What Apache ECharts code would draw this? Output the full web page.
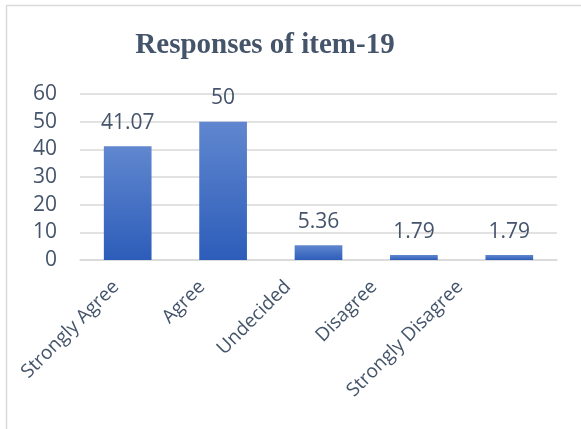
<!DOCTYPE html>
<html><head><meta charset="utf-8">
<script src="https://cdn.jsdelivr.net/npm/echarts@6/dist/echarts.min.js"></script>
<style>html,body{margin:0;padding:0;background:#fff}#c{width:581px;height:429px}</style>
</head><body><div id="c"></div>
<script>
const categories = ["Strongly Agree", "Agree", "Undecided", "Disagree", "Strongly Disagree"];
const values = [41.07, 50, 5.36, 1.79, 1.79];
const yTicks = [0, 10, 20, 30, 40, 50, 60];
const titleText = "Responses of item-19";

const chart = echarts.init(document.getElementById('c'), null, {renderer: 'canvas'});
const txt = '#44546A';
chart.setOption({
  animation: false,
  backgroundColor: '#fff',
  graphic: [{
    type: 'rect', left: 4, top: 3, shape: {width: 620, height: 460},
    style: {fill: 'none', stroke: '#D9D9D9', lineWidth: 1.5}, z: -1
  }],
  title: {
    text: titleText, left: 260, top: 26, textAlign: 'center',
    textStyle: {fontFamily: 'Liberation Serif', fontWeight: 'bold', fontSize: 29, color: txt}
  },
  grid: [
    {left: 80, right: 24, top: 94, bottom: 169, containLabel: false},
    {left: 73, width: 430, top: 94, bottom: 169, containLabel: false}
  ],
  xAxis: [{
    type: 'category', data: categories, gridIndex: 0,
    axisLine: {show: true, lineStyle: {color: '#D9D9D9', width: 1.5}},
    axisTick: {show: false},
    axisLabel: {show: false}
  }, {
    type: 'category', data: categories, gridIndex: 1,
    axisLine: {show: false}, axisTick: {show: false}, splitLine: {show: false},
    axisLabel: {rotate: 45, interval: 0, margin: 24, color: txt, fontSize: 19, fontFamily: 'Open Sans'}
  }],
  yAxis: [{
    type: 'value', gridIndex: 0, min: yTicks[0], max: yTicks[yTicks.length - 1], interval: 10,
    axisLine: {show: false}, axisTick: {show: false},
    splitLine: {lineStyle: {color: '#D9D9D9', width: 1.5}},
    axisLabel: {margin: 23, color: txt, fontSize: 21, fontFamily: 'Open Sans'}
  }, {
    type: 'value', gridIndex: 1, min: yTicks[0], max: yTicks[yTicks.length - 1], show: false
  }],
  series: [{
    type: 'bar', data: values, barWidth: '50%', xAxisIndex: 0, yAxisIndex: 0,
    itemStyle: {color: new echarts.graphic.LinearGradient(0, 0, 0, 1, [
      {offset: 0, color: '#6087CF'}, {offset: 1, color: '#2D5DBA'}])},
    label: {show: true, position: 'top', distance: 13, color: txt, fontSize: 21, fontFamily: 'Open Sans'}
  }]
});
</script></body></html>
